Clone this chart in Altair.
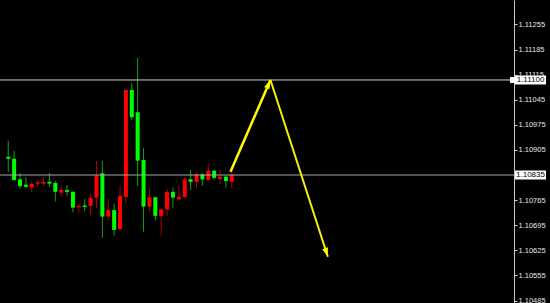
import altair as alt
import pandas as pd

# EURUSD candles (oldest -> newest)
opens = [1.10886, 1.10880, 1.10823, 1.10808, 1.10801, 1.10811, 1.10811, 1.10816, 1.10813, 1.10786,
         1.10793, 1.10788, 1.10745, 1.10750, 1.10749, 1.10772, 1.10840, 1.10719, 1.10737, 1.10684,
         1.10774, 1.11072, 1.11010, 1.10877, 1.10747, 1.10773, 1.10721, 1.10739, 1.10788, 1.10767,
         1.10773, 1.10823, 1.10816, 1.10837, 1.10821, 1.10847, 1.10824, 1.10830, 1.10816]
highs = [1.10931, 1.10902, 1.10840, 1.10829, 1.10816, 1.10821, 1.10829, 1.10840, 1.10818, 1.10807,
         1.10807, 1.10790, 1.10754, 1.10768, 1.10784, 1.10874, 1.10874, 1.10768, 1.10756, 1.10805,
         1.11075, 1.11091, 1.11162, 1.10911, 1.10800, 1.10774, 1.10744, 1.10796, 1.10800, 1.10802,
         1.10829, 1.10849, 1.10843, 1.10840, 1.10865, 1.10849, 1.10849, 1.10833, 1.10849]
lows = [1.10844, 1.10819, 1.10797, 1.10800, 1.10788, 1.10801, 1.10804, 1.10802, 1.10761, 1.10774,
        1.10777, 1.10731, 1.10731, 1.10735, 1.10724, 1.10742, 1.10660, 1.10707, 1.10666, 1.10684,
        1.10756, 1.10988, 1.10805, 1.10677, 1.10733, 1.10708, 1.10666, 1.10721, 1.10744, 1.10765,
        1.10773, 1.10793, 1.10798, 1.10805, 1.10821, 1.10823, 1.10810, 1.10800, 1.10798]
closes = [1.10880, 1.10821, 1.10804, 1.10802, 1.10810, 1.10815, 1.10816, 1.10811, 1.10788, 1.10793,
          1.10788, 1.10744, 1.10749, 1.10746, 1.10771, 1.10834, 1.10719, 1.10737, 1.10682, 1.10777,
          1.11072, 1.10996, 1.10875, 1.10747, 1.10773, 1.10721, 1.10739, 1.10788, 1.10772, 1.10774,
          1.10823, 1.10816, 1.10837, 1.10823, 1.10847, 1.10827, 1.10830, 1.10818, 1.10835]

# Horizontal levels and right-axis ticks (the 1.10835 level carries its own tag)
levels = [1.11100, 1.10835]
level_labels = ["1.11100", "1.10835"]
tick_values = [1.11325, 1.11255, 1.11185, 1.11115, 1.11045, 1.10975, 1.10905,
               1.10765, 1.10695, 1.10625, 1.10555, 1.10485]

# Projected path: up to resistance, then down
path_bar = [37.78, 44.57, 54.33]
path_price = [1.10844, 1.11100, 1.10607]

candles = pd.DataFrame({
    "bar": list(range(len(opens))),
    "open": opens, "high": highs, "low": lows, "close": closes,
})
levels_df = pd.DataFrame({"level": levels, "label": level_labels})
up_leg = pd.DataFrame({"x": [path_bar[0]], "y": [path_price[0]],
                       "x2": [path_bar[1]], "y2": [path_price[1]]})
down_leg = pd.DataFrame({"x": [path_bar[1]], "y": [path_price[1]],
                         "x2": [path_bar[2]], "y2": [path_price[2]]})

FONT = "Liberation Sans"
xscale = alt.Scale(domain=[-0.55, 85.117], nice=False, zero=False)
yscale = alt.Scale(domain=[1.1047803, 1.1132305], nice=False, zero=False)

price_axis = alt.Axis(
    orient="right", values=tick_values, format=".5f", title=None,
    grid=False, domainColor="#c8c8c8", tickColor="#d0d0d0", tickSize=3,
    labelColor="#e6e6e6", labelFont=FONT, labelFontSize=7.5,
    labelPadding=1, labelOverlap=False, labelFlush=False, labelBound=False,
)


def X(field):
    return alt.X(field, type="quantitative", scale=xscale, axis=None)


def Y(field):
    return alt.Y(field, type="quantitative", scale=yscale, axis=price_axis)


bull = "datum.close > datum.open"

wicks = alt.Chart(candles).mark_rule(strokeWidth=1).encode(
    x=X("bar"), y=Y("low"), y2="high",
    color=alt.condition(bull, alt.value("#b00000"), alt.value("#16a016")),
)

bodies = alt.Chart(candles).mark_bar(width=4).encode(
    x=X("bar"), y=Y("open"), y2="close",
    color=alt.condition(bull, alt.value("#ff0000"), alt.value("#00ff00")),
)

level_lines = alt.Chart(levels_df).mark_rule(strokeWidth=1).encode(
    y=Y("level"),
    color=alt.condition("datum.level > 1.11", alt.value("#cfcfcf"), alt.value("#a8a8a8")),
)

level_boxes = alt.Chart(levels_df).mark_rect(color="white", yOffset=-4.5, y2Offset=4.5).encode(
    x=alt.value(515), x2=alt.value(546), y=Y("level"), y2="level",
)

level_text = alt.Chart(levels_df).mark_text(
    color="black", font=FONT, fontSize=8, align="center", baseline="middle"
).encode(x=alt.value(530.5), y=Y("level"), text="label:N")

anchor = alt.Chart(levels_df).transform_filter("datum.level > 1.11").mark_rect(
    color="white", yOffset=-3, y2Offset=3
).encode(x=alt.value(510), x2=alt.value(515), y=Y("level"), y2="level")

ARROW = "M0,0 L0.33,1 L-0.33,1 Z"

up_line = alt.Chart(up_leg).mark_rule(color="#ffff00", strokeWidth=2.5).encode(
    x=X("x"), x2="x2", y=Y("y"), y2="y2",
)
up_head = alt.Chart(up_leg).mark_point(
    shape=ARROW, filled=True, color="#ffff00", size=320, angle=24, opacity=1
).encode(x=X("x2"), y=Y("y2"))

down_line = alt.Chart(down_leg).mark_rule(color="#f2f200", strokeWidth=2).encode(
    x=X("x"), x2="x2", y=Y("y"), y2="y2",
)
down_head = alt.Chart(down_leg).mark_point(
    shape=ARROW, filled=True, color="#ffff00", size=320, angle=161.6, opacity=1
).encode(x=X("x2"), y=Y("y2"))

chart = alt.layer(
    wicks, bodies, level_lines, up_line, down_line, up_head, down_head,
    anchor, level_boxes, level_text,
).properties(
    width=514, height=303,
    padding={"left": 0, "top": 0, "right": 36, "bottom": 0},
    autosize=alt.AutoSizeParams(type="none"),
    background="black",
).configure_view(stroke=None, fill="black")

chart.save("out.html", embed_options={"renderer": "svg", "actions": False})
